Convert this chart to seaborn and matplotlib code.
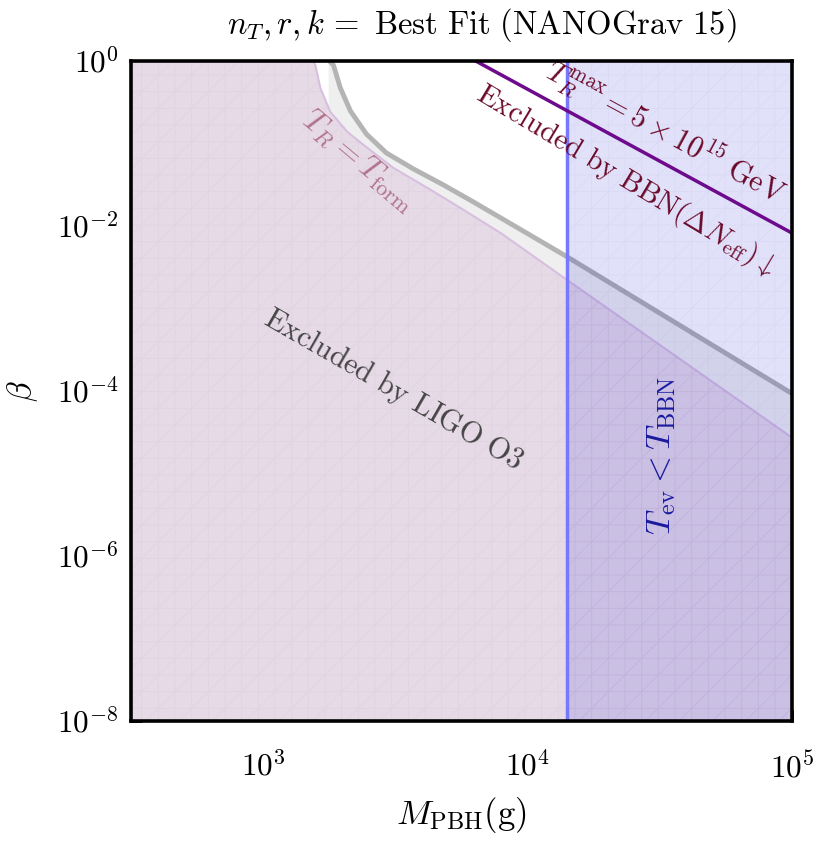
import numpy as np
import seaborn as sns
import matplotlib.pyplot as plt

# curves (mass in g, beta)
ligo_mass = [1760, 1778, 1842, 1957, 2136, 2456, 2924, 3700, 4806, 6245, 8400, 13930, 100000]
ligo_beta = [1.5, 1.0, 0.894, 0.471, 0.248, 0.130, 0.0767, 0.0491, 0.0314, 0.0195, 0.0112, 4.33e-3, 9.3e-5]

tform_mass = [300, 1520, 1547, 1574, 1644, 1794, 2081, 2477, 3108, 4181, 5575, 7904, 13930, 100000]
tform_beta = [1.5, 1.5, 1.0, 0.894, 0.471, 0.241, 0.138, 0.0882, 0.0505, 0.0289, 0.0165, 8.22e-3, 2.28e-3, 2.72e-5]

tmax_mass = [5000, 100000]
tmax_beta = [1.52, 8.2e-3]

t_bbn_mass = 1.41e4
x_ticks = [1e3, 1e4, 1e5]
x_labels = [r'$10^{3}$', r'$10^{4}$', r'$10^{5}$']
y_ticks = [1e-8, 1e-6, 1e-4, 1e-2, 1e0]
y_labels = [r'$10^{-8}$', r'$10^{-6}$', r'$10^{-4}$', r'$10^{-2}$', r'$10^{0}$']

sns.set_style('ticks')
plt.rcParams['mathtext.fontset'] = 'cm'
plt.rcParams['font.family'] = ['DejaVu Serif']
plt.rcParams['hatch.linewidth'] = 0.6

fig = plt.figure(figsize=(8.14, 8.42), dpi=100)
ax = fig.add_axes([0.161, 0.1437, 0.812, 0.7839])
ax.set_xscale('log')
ax.set_yscale('log')

# LIGO O3 band (light gray) and its edge
ax.fill_between(ligo_mass, 1e-9, ligo_beta, color='gray', alpha=0.12, lw=0, zorder=1)
sns.lineplot(x=ligo_mass, y=ligo_beta, ax=ax, color='#b4b4b4', lw=3.5, zorder=3)

# T_R = T_form excluded region
ax.fill_between(tform_mass, 1e-9, tform_beta, color='#e6dae6', lw=0, zorder=2)
ax.fill_between(tform_mass, 1e-9, tform_beta, facecolor='none', hatch='+/',
                edgecolor=(0.5, 0.3, 0.5, 0.045), lw=0, zorder=2)
sns.lineplot(x=tform_mass, y=tform_beta, ax=ax, color='#d8bfe0', lw=1.5, zorder=3)

# T_ev < T_BBN region
ax.axvspan(t_bbn_mass, 1e5, color=(0, 0, 0.835), alpha=0.118, lw=0, zorder=4)
ax.axvspan(t_bbn_mass, 1e5, facecolor='none', hatch='+/',
           edgecolor=(0.2, 0.2, 0.6, 0.04), lw=0, zorder=4)
ax.axvline(t_bbn_mass, color='#7878ff', lw=2.5, zorder=5)

# T_R^max line
sns.lineplot(x=tmax_mass, y=tmax_beta, ax=ax, color='#6e0a8c', lw=2.5, zorder=5)

ax.set_xlim(10**2.5, 1e5)
ax.set_ylim(1e-8, 1)
ax.set_xticks(x_ticks)
ax.set_xticklabels(x_labels)
ax.set_yticks(y_ticks)
ax.set_yticklabels(y_labels)
ax.minorticks_off()
ax.tick_params(direction='in', length=8, width=2, labelsize=22.5, color='black', labelcolor='black')
ax.tick_params(axis='x', pad=22)
ax.tick_params(axis='y', pad=9)
for s in ax.spines.values():
    s.set_linewidth(2.6)
    s.set_color('black')
    s.set_zorder(10)

ax.set_xlabel(r'$M_{\mathrm{PBH}}(\mathrm{g})$', fontsize=25, labelpad=8, color='black')
ax.set_ylabel(r'$\beta$', fontsize=24, labelpad=12, color='black')
ax.set_title(r'$n_T, r, k\,=\ \mathrm{Best\ Fit\ (NANOGrav\ 15)}$', fontsize=23.5,
             pad=20, x=0.53, color='black')

ax.text(33300, 0.138, r'$T_R^{\mathrm{max}} = 5\times 10^{15}\ \mathrm{GeV}$',
        color='#6b0a2a', fontsize=21.5, rotation=-28.5, ha='center', va='center',
        rotation_mode='anchor', zorder=6)
ax.text(23500, 0.036, r'$\mathrm{Excluded\ by\ BBN}(\Delta N_{\mathrm{eff}})\downarrow$',
        color='#6b0a2a', fontsize=21, rotation=-31, ha='center', va='center',
        rotation_mode='anchor', zorder=6)
ax.text(2290, 0.062, r'$T_R = T_{\mathrm{form}}$', color='#a8607e', alpha=0.85,
        fontsize=23, rotation=-40, ha='center', va='center', rotation_mode='anchor', zorder=6)
ax.text(3105, 1.03e-4, r'$\mathrm{Excluded\ by\ LIGO\ O3}$', color='#454545',
        fontsize=21.5, rotation=-30, ha='center', va='center', rotation_mode='anchor', zorder=6)
ax.text(31900, 1.67e-5, r'$T_{\mathrm{ev}} < T_{\mathrm{BBN}}$', color='#1a1aa0',
        fontsize=25, rotation=90, ha='center', va='center', zorder=6)

fig.savefig('out.png', dpi=100)
